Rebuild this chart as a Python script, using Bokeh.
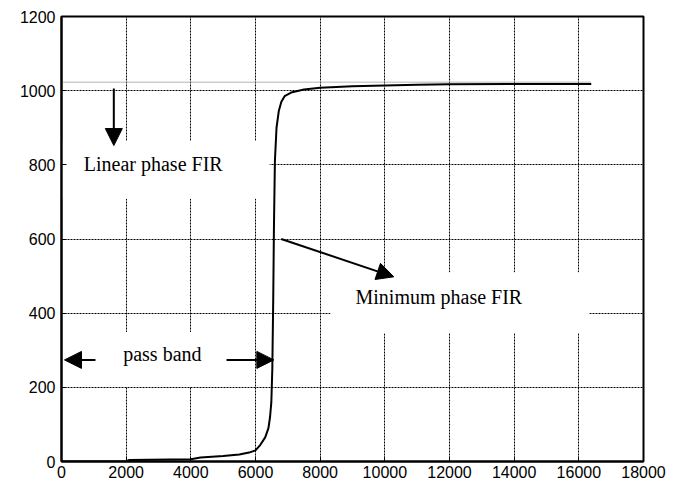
from bokeh.plotting import figure
from bokeh.models import Range1d, FixedTicker, Label, Arrow, NormalHead
from bokeh.embed import file_html
from bokeh.resources import INLINE

# ---- data ----
freq = [0, 2000, 2100, 4000, 4300, 5000, 5500, 5800, 6000, 6150, 6300, 6400, 6450,
        6490, 6520, 6550, 6570, 6600, 6650, 6720, 6800, 6900, 7100, 7500, 8000,
        9000, 10000, 11000, 12000, 14000, 16384]
min_phase = [0, 0, 4, 6, 11, 15, 19, 24, 30, 45, 65, 90, 120,
             160, 250, 450, 630, 810, 900, 945, 970, 985, 995, 1003, 1008,
             1012, 1014, 1016, 1017, 1018, 1018]
lin_freq = [0, 16384]
lin_phase = [1023, 1023]
x_ticks = [0, 2000, 4000, 6000, 8000, 10000, 12000, 14000, 16000, 18000]
y_ticks = [0, 200, 400, 600, 800, 1000, 1200]

SERIF = "Liberation Serif"
SANS = "Liberation Sans"

p = figure(width=681, height=487, x_range=Range1d(0, 18000), y_range=Range1d(0, 1200),
           output_backend="svg", toolbar_location=None,
           min_border_left=61, min_border_right=38, min_border_top=16, min_border_bottom=26)
p.background_fill_color = "white"
p.border_fill_color = "white"
p.outline_line_color = "black"
p.outline_line_width = 2

for ax, ticks in ((p.xaxis[0], x_ticks), (p.yaxis[0], y_ticks)):
    ax.ticker = FixedTicker(ticks=ticks)
    ax.minor_tick_line_color = None
    ax.major_tick_in = 5
    ax.major_tick_out = 0
    ax.major_tick_line_width = 1
    ax.axis_line_width = 2
    ax.major_label_text_font = SANS
    ax.major_label_text_font_size = "16px"
    ax.major_label_text_color = "black"
p.xaxis.major_label_standoff = 4
p.yaxis.major_label_standoff = 6

p.grid.grid_line_color = "black"
p.grid.grid_line_alpha = 1.0
p.grid.grid_line_dash = "2 1"
p.grid.grid_line_width = 1
p.xgrid.ticker = FixedTicker(ticks=x_ticks)
p.ygrid.ticker = FixedTicker(ticks=y_ticks)

# text labels with white boxes (cut the grid like the original)
def add_label(x, y, text, pad):
    lab = Label(x=x, y=y, text=text, text_font=SERIF, text_font_size="20px",
                text_color="black", text_align="left", text_baseline="alphabetic",
                background_fill_color="white", padding=pad, level="underlay")
    p.add_layout(lab)

add_label(40, 787, "Linear phase FIR", dict(left=21, right=47, top=12, bottom=24))
add_label(8320, 428, "Minimum phase FIR", dict(left=25, right=67, top=14, bottom=25))
add_label(1042, 275, "pass band", dict(left=28, right=24, top=11, bottom=22))

p.line(lin_freq, lin_phase, line_color="#9a9a9a", line_width=1.5, line_dash="1 1")
p.line(freq, min_phase, line_color="black", line_width=2)

def add_arrow(x0, y0, x1, y1):
    p.add_layout(Arrow(x_start=x0, y_start=y0, x_end=x1, y_end=y1, line_width=2,
                       line_color="black",
                       end=NormalHead(size=17, fill_color="black", line_color="black", line_width=1)))

add_arrow(1618, 1006, 1618, 852)
add_arrow(6795, 600, 10279, 498)
add_arrow(1051, 274, 93, 274)
add_arrow(5104, 274, 6567, 274)

open("out.html", "w").write(file_html(p, INLINE))
